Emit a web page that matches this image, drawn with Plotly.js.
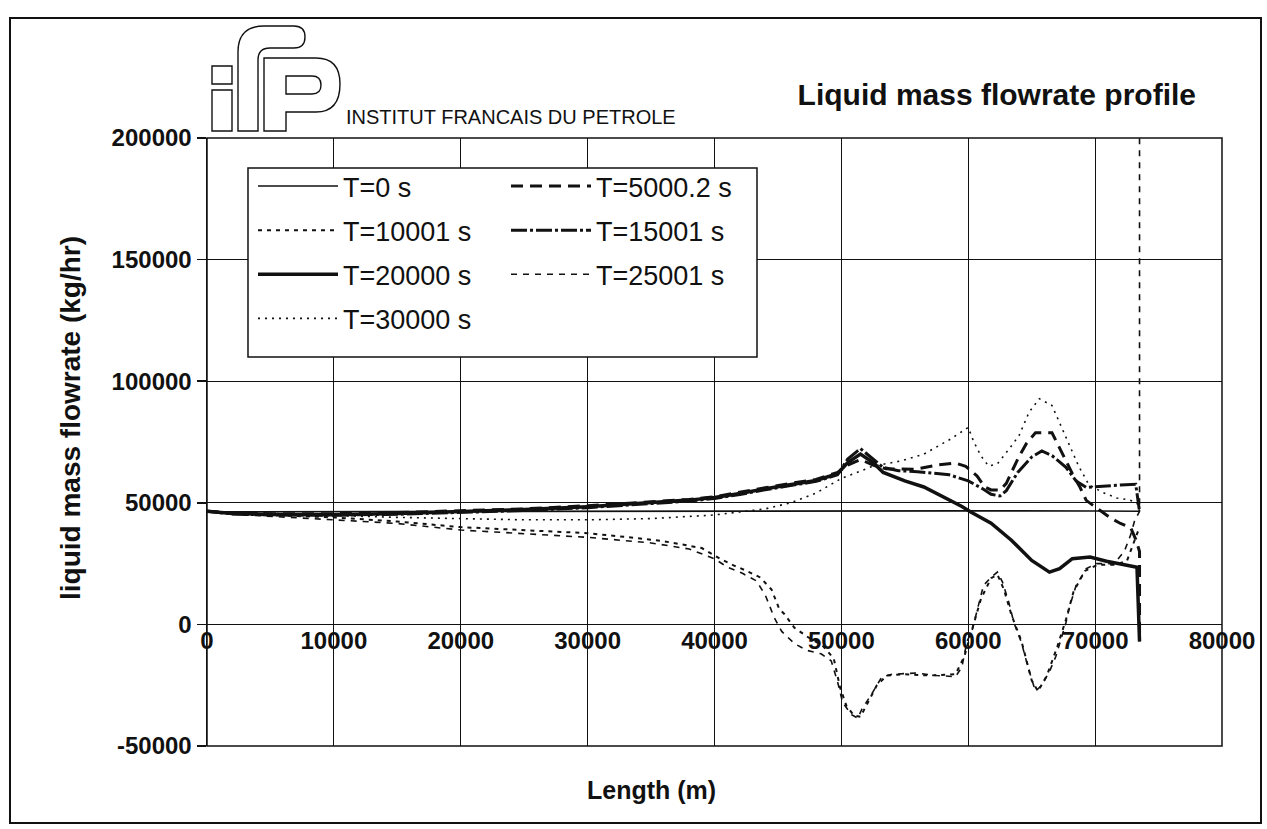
<!DOCTYPE html>
<html>
<head>
<meta charset="utf-8">
<script src="https://cdn.plot.ly/plotly-3.0.1.min.js"></script>
<style>
  html, body { margin: 0; padding: 0; background: #ffffff; }
  #chart { width: 1267px; height: 829px; }
</style>
</head>
<body>
<div id="chart"></div>
<script>
// ---------------- data ----------------
const lengthT0 = [0, 10000, 20000, 30000, 40000, 50000, 60000, 70000, 73500];
const flowT0   = [46300, 46400, 46500, 46500, 46600, 46700, 46700, 46600, 46500];

const lengthT5000 = [0, 2000, 5000, 10000, 15000, 20000, 25000, 30000, 35000, 38000, 40000, 42000, 44000, 46000, 48000, 49700,
  50500, 51500, 52500, 53500, 55800, 57500, 59000, 59800, 60700, 61300, 61800, 62500, 63000, 63400, 64000, 64600, 65300, 66600,
  67200, 67700, 68300, 68800, 69300, 70400, 71300, 72000, 72800, 73200, 73500, 73500];
const flowT5000 = [46500, 45800, 45500, 45500, 46000, 46700, 47500, 48800, 50300, 51400, 52500, 54200, 56200, 58000, 59600, 62500,
  65500, 67800, 65500, 64000, 63800, 65500, 66300, 65000, 61000, 56500, 55300, 55200, 58000, 62500, 69000, 74500, 78800, 78800,
  72500, 66700, 61000, 56500, 51000, 46800, 43500, 41500, 39800, 35000, 30000, -7000];

const lengthT10001 = [0, 3000, 10000, 15000, 20000, 25000, 30000, 33700, 36000, 39000, 40400, 41500, 42500, 43600, 44500, 45100,
  45500, 46300, 47500, 48500, 49400, 49900, 50400, 51000, 51500, 52000, 52800, 53600, 55000, 57000, 59000, 59700, 60300, 61000,
  61800, 62300, 62800, 63400, 64200, 65000, 65500, 66200, 67000, 67700, 68300, 69200, 70200, 71500, 72500, 73500];
const flowT10001 = [46500, 45400, 44000, 42300, 40000, 38700, 37500, 35600, 34200, 31400, 27100, 24300, 22100, 19300, 14300, 6400,
  4300, -1400, -5700, -8600, -14000, -26000, -33500, -37500, -38000, -33000, -25000, -21000, -20500, -21000, -20500, -13000, -2500, 10500,
  19000, 20500, 14500, 4000, -7000, -23000, -27500, -21000, -9500, 2000, 13500, 22000, 24500, 24500, 26000, 40000];

const lengthT15001 = [0, 2000, 5000, 10000, 15000, 20000, 25000, 30000, 35000, 38000, 40000, 42000, 44000, 46000, 48000, 49700,
  50500, 51500, 52500, 53300, 54500, 56000, 58500, 60000, 61200, 61800, 62500, 63000, 63900, 65000, 65800, 66600, 67700, 68500,
  69300, 70500, 72000, 73200, 73500];
const flowT15001 = [46500, 45400, 45000, 44900, 45300, 46000, 46800, 48000, 49600, 50700, 51800, 53400, 55400, 57200, 58800, 61500,
  68000, 72300, 68000, 64500, 63200, 62800, 61500, 59000, 55600, 53500, 52800, 55000, 62500, 68800, 71300, 69400, 64600, 59000,
  56300, 56800, 57300, 57600, 46500];

const lengthT20000 = [0, 2000, 5000, 10000, 15000, 20000, 25000, 30000, 35000, 38000, 40000, 42000, 44000, 46000, 48000, 49700,
  50500, 51500, 52500, 53300, 55000, 56500, 58000, 59500, 60200, 61800, 63400, 65000, 66400, 67200, 68200, 69600, 70900, 72000,
  73300, 73500];
const flowT20000 = [46500, 45600, 45200, 45100, 45600, 46300, 47200, 48400, 50000, 51100, 52200, 53800, 55800, 57600, 59200, 62000,
  66500, 70000, 66500, 62500, 59000, 56500, 52500, 48500, 46200, 41600, 34600, 26300, 21500, 22900, 27000, 27700, 26000, 24700,
  23500, -7000];

const lengthT25001 = [0, 3000, 10000, 15000, 20000, 25000, 30000, 35000, 38000, 40000, 41000, 42200, 43300, 44000, 44700, 45300,
  46300, 47300, 48400, 49200, 49700, 50100, 50800, 51300, 51600, 52400, 53200, 54000, 55900, 57500, 59000, 59500, 59900, 60300,
  60700, 61200, 61800, 62300, 62700, 63200, 63600, 64200, 64700, 65300, 65800, 66400, 66900, 67300, 67700, 68000, 68500, 69300,
  70100, 71500, 72300, 72800, 73100, 73500, 73500];
const flowT25001 = [46500, 45000, 43000, 41500, 38800, 37300, 35800, 33500, 31000, 27000, 23600, 21000, 17900, 12100, 2900, -2900,
  -7900, -10700, -12100, -15000, -23600, -32100, -37100, -38600, -35000, -28500, -21500, -20500, -20000, -21000, -21500, -17500, -7000, -2500,
  6000, 16000, 19400, 21500, 17400, 9000, 700, -7600, -17400, -27500, -25000, -19400, -13200, -6200, 700, 7600, 16000, 22900,
  25000, 25000, 30000, 36800, 42400, 46500, 260000];

const lengthT30000 = [0, 5000, 10000, 15000, 20000, 25000, 30000, 35000, 40000, 44000, 46000, 48000, 50000, 51500, 52500, 54700,
  56500, 58600, 60000, 60400, 61000, 61600, 62300, 63200, 64000, 64800, 65600, 66600, 67200, 68000, 68700, 69500, 70500, 71700,
  72700, 73300, 73500];
const flowT30000 = [46500, 45500, 44800, 44000, 43500, 43000, 43000, 43500, 45000, 47500, 50000, 54000, 60000, 63000, 65100, 67200,
  70000, 76200, 81000, 75500, 69300, 65100, 66000, 72000, 77600, 87300, 92800, 90000, 83100, 73400, 65100, 57500, 54500, 52000,
  51200, 50000, 46500];

const seriesNames = ['T=0 s', 'T=5000.2 s', 'T=10001 s', 'T=15001 s', 'T=20000 s', 'T=25001 s', 'T=30000 s'];
const xTickVals = [0, 10000, 20000, 30000, 40000, 50000, 60000, 70000, 80000];
const yTickVals = [-50000, 0, 50000, 100000, 150000, 200000];

// ---------------- geometry helpers (pixel -> paper) ----------------
const PL = 207, PR = 1222, PT = 138, PB = 746;
const X = p => ((p - PL) / (PR - PL)).toFixed(5);
const Y = p => ((PB - p) / (PB - PT)).toFixed(5);
function pathPx(cmds) {
  return cmds.map(c => {
    const L = c[0];
    const nums = c.slice(1);
    const out = [];
    for (let i = 0; i < nums.length; i += 2) out.push(X(nums[i]) + ',' + Y(nums[i + 1]));
    return L + out.join(' ');
  }).join(' ');
}

const FONT = 'Liberation Sans, Arial, sans-serif';
const INK = '#111111';

function tr(x, y, name, dash, width, legend) {
  return {
    type: 'scatter', mode: 'lines', x: x, y: y, name: name,
    line: { color: INK, width: width, dash: dash, shape: 'linear' },
    legend: legend, legendgroup: name, showlegend: true, hoverinfo: 'skip'
  };
}

const data = [
  tr(lengthT0, flowT0, seriesNames[0], 'solid', 1.6, 'legend'),
  tr(lengthT5000, flowT5000, seriesNames[1], '12px,7px', 3, 'legend2'),
  tr(lengthT10001, flowT10001, seriesNames[2], '4px,5px', 2, 'legend'),
  tr(lengthT15001, flowT15001, seriesNames[3], '16px,3px,3px,3px', 3, 'legend2'),
  tr(lengthT20000, flowT20000, seriesNames[4], 'solid', 3.5, 'legend'),
  tr(lengthT25001, flowT25001, seriesNames[5], '6px,6px', 1.6, 'legend2'),
  tr(lengthT30000, flowT30000, seriesNames[6], '2px,5px', 1.6, 'legend')
];

// logo "ifp" outline paths
const logoI1 = pathPx([['M',212,66],['L',232,66],['L',232,84],['L',212,84],['Z']]);
const logoI2 = pathPx([['M',212,90],['L',232,90],['L',232,131],['L',212,131],['Z']]);
const logoF = pathPx([['M',238,131],['L',238,52],['Q',238,26,264,26],['L',294,26],['Q',305,26,305,37],['Q',305,48,294,48],
  ['L',270,48],['Q',258,48,258,60],['L',258,131],['Z']]);
const logoP = pathPx([['M',264,131],['L',264,58],['L',316,58],['Q',340,58,340,84],['Q',340,112,316,112],['L',286,112],['L',286,131],['Z'],
  ['M',286,76],['L',312,76],['Q',321,76,321,85],['Q',321,94,312,94],['L',286,94],['Z']]);

const shapes = [
  { type: 'rect', xref: 'paper', yref: 'paper', x0: X(10), x1: X(1261), y0: Y(823), y1: Y(18),
    line: { color: INK, width: 2 }, fillcolor: 'rgba(0,0,0,0)', layer: 'below' },
  { type: 'rect', xref: 'paper', yref: 'paper', x0: 0, x1: 1, y0: 0, y1: 1,
    line: { color: INK, width: 1.5 }, fillcolor: 'rgba(0,0,0,0)', layer: 'above' },
  { type: 'rect', xref: 'paper', yref: 'paper', x0: X(248), x1: X(757), y0: Y(357), y1: Y(168),
    line: { color: INK, width: 1.5 }, fillcolor: '#ffffff', layer: 'above' },
  { type: 'path', xref: 'paper', yref: 'paper', path: logoI1, line: { color: INK, width: 1.4 }, fillcolor: 'rgba(0,0,0,0)', layer: 'above' },
  { type: 'path', xref: 'paper', yref: 'paper', path: logoI2, line: { color: INK, width: 1.4 }, fillcolor: 'rgba(0,0,0,0)', layer: 'above' },
  { type: 'path', xref: 'paper', yref: 'paper', path: logoF, line: { color: INK, width: 1.4 }, fillcolor: 'rgba(0,0,0,0)', layer: 'above' },
  { type: 'path', xref: 'paper', yref: 'paper', path: logoP, line: { color: INK, width: 1.4 }, fillcolor: 'rgba(0,0,0,0)', layer: 'above' }
];

const legendCommon = {
  bgcolor: 'rgba(0,0,0,0)', borderwidth: 0, orientation: 'v',
  font: { family: FONT, size: 27, color: INK },
  xanchor: 'left', yanchor: 'top', itemwidth: 80, tracegroupgap: 6, traceorder: 'grouped'
};

const layout = {
  width: 1267, height: 829,
  paper_bgcolor: '#ffffff', plot_bgcolor: '#ffffff',
  margin: { l: PL, r: 1267 - PR, t: PT, b: 829 - PB, pad: 0 },
  font: { family: FONT, color: INK },
  showlegend: true,
  title: {
    text: 'Liquid mass flowrate profile',
    font: { family: FONT, size: 30, weight: 700, color: INK },
    xref: 'container', yref: 'container', x: 1196 / 1267, xanchor: 'right',
    y: 1 - 94 / 829, yanchor: 'middle'
  },
  xaxis: {
    range: [0, 80000], tickvals: xTickVals, ticktext: xTickVals.map(String),
    showgrid: true, gridcolor: INK, gridwidth: 1.2, zeroline: false, showline: false,
    ticks: '', anchor: 'free', position: 0.2, automargin: false,
    tickfont: { family: FONT, size: 24, weight: 700, color: INK }
  },
  yaxis: {
    range: [-50000, 200000], tickvals: yTickVals, ticktext: yTickVals.map(String),
    showgrid: true, gridcolor: INK, gridwidth: 1.2, zeroline: false,
    showline: true, linecolor: INK, linewidth: 1.5,
    ticks: 'outside', ticklen: 9, tickcolor: INK, tickwidth: 1.5, automargin: false,
    tickfont: { family: FONT, size: 24, weight: 700, color: INK }
  },
  legend: Object.assign({}, legendCommon, { x: X(253), y: Y(162) }),
  legend2: Object.assign({}, legendCommon, { x: X(506), y: Y(162) }),
  shapes: shapes,
  annotations: [
    { text: 'INSTITUT FRANCAIS DU PETROLE', xref: 'paper', yref: 'paper', x: X(344), y: Y(117),
      xanchor: 'left', yanchor: 'middle', showarrow: false,
      font: { family: FONT, size: 20, color: INK } },
    { text: 'Length (m)', xref: 'paper', yref: 'paper', x: X(651), y: Y(790),
      xanchor: 'center', yanchor: 'middle', showarrow: false,
      font: { family: FONT, size: 25, weight: 700, color: INK } },
    { text: 'liquid mass flowrate (kg/hr)', xref: 'paper', yref: 'paper', x: X(70), y: Y(418),
      xanchor: 'center', yanchor: 'middle', showarrow: false, textangle: -90,
      font: { family: FONT, size: 28, weight: 700, color: INK } }
  ]
};

Plotly.newPlot('chart', data, layout, { staticPlot: true, displayModeBar: false }).then(function (gd) {
  gd.querySelectorAll('.infolayer path.js-line').forEach(function (p) {
    p.setAttribute('d', 'M5,0h80');
  });
});
</script>
</body>
</html>
